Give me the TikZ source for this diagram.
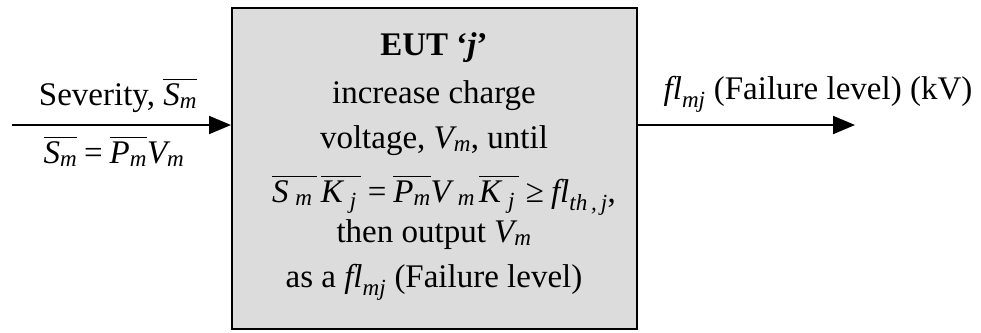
\documentclass[tikz,border=0pt]{standalone}
\usepackage{fontspec}
\usepackage{amsmath}
\setmainfont{Liberation Serif}
\usetikzlibrary{arrows.meta}
\definecolor{boxgray}{RGB}{220,220,220}
\newcommand{\iv}[1]{\textit{#1}}
\newcommand{\teq}{\mathrel{\text{=}}}
\newcommand{\tge}{\mathrel{\text{≥}}}
\begin{document}
\begin{tikzpicture}[x=1pt,y=-1pt,
  txt/.style={anchor=base, inner sep=0pt, font=\fontsize{33}{38}\selectfont},
  blk/.style={draw=black, line width=2pt, fill=boxgray, minimum width=405pt, minimum height=321pt, inner sep=0pt},
  arr/.style={line width=2pt, -{Triangle[length=22pt,width=18pt]}}]
\useasboundingbox (0,0) rectangle (981,332);
\node[blk] (eut) at (434.5,168.5) {};
\node[txt] (t1) at (434,55) {\textbf{EUT ‘\textit{j}’}};
\node[txt] (t2) at (434,103) {increase charge};
\node[txt] (t3) at (434,148) {voltage, $\iv{V}_{\iv{m}}$, until};
\node[txt] (t4) at (444,202) {$\overline{\iv{S}_{\;\iv{m}}\,}\,\overline{\iv{K}_{\;\iv{j}}\,} \teq \overline{\iv{P}_{\iv{m}}}\iv{V}_{\;\iv{m}}\,\overline{\iv{K}_{\;\iv{j}}\,} \tge \iv{fl}_{\iv{th\,,\,j}}$,};
\node[txt] (t5) at (434,242) {then output $\iv{V}_{\iv{m}}$};
\node[txt] (t6) at (434,287) {as a $\iv{fl}_{\iv{mj}}$ (Failure level)};
\coordinate (inL) at (12,125);
\coordinate (outR) at (855,125);
\draw[arr] (inL) -- (inL -| eut.west);
\draw[arr] (outR -| eut.east) -- (outR);
\node[txt] (sev) at (118,105) {Severity, $\overline{\iv{S}_{\iv{m}}}$};
\node[txt] (seq) at (114,163) {$\overline{\iv{S}_{\iv{m}}} \teq \overline{\iv{P}_{\iv{m}}}\iv{V}_{\iv{m}}$};
\node[txt] (out) at (818,99) {$\iv{fl}_{\iv{mj}}$ (Failure level) (kV)};
\end{tikzpicture}
\end{document}
